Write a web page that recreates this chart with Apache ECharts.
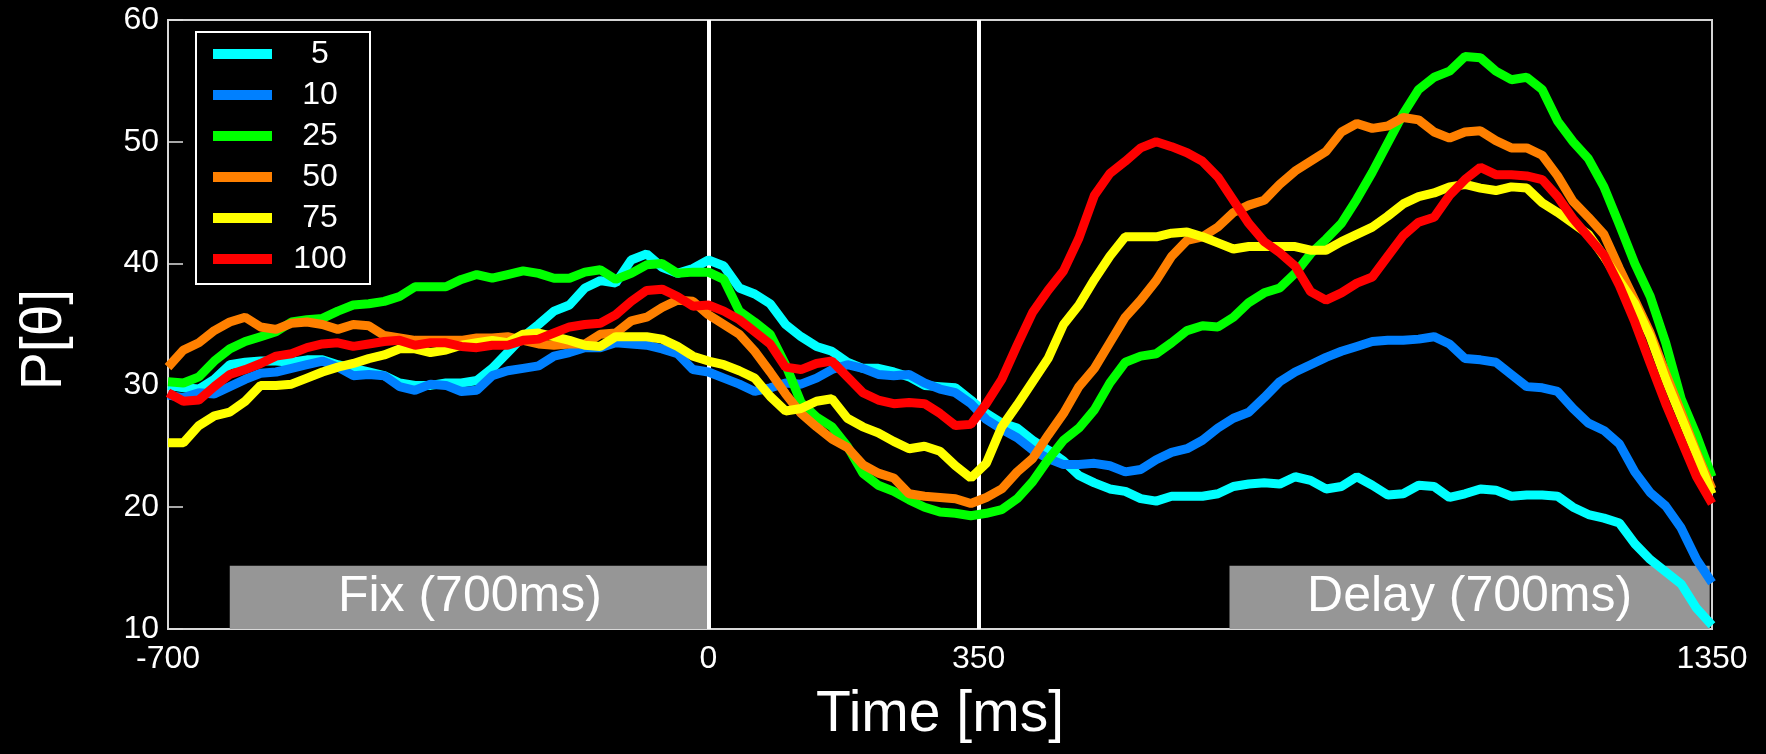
<!DOCTYPE html>
<html>
<head>
<meta charset="utf-8">
<script src="https://cdn.jsdelivr.net/npm/echarts@6/dist/echarts.min.js"></script>
<style>
html,body{margin:0;padding:0;background:#000;}
#chart{width:1766px;height:754px;}
</style>
</head>
<body>
<div id="chart"></div>
<script>
// x positions are sample indices 0..200 (one reading every 2 samples)
const STEP = 2;
const tickPositions = [0, 70, 105, 200];
const tickLabels = ['-700', '0', '350', '1350'];
const seriesNames = ['5', '10', '25', '50', '75', '100'];
const seriesColors = ['#00FFFF', '#0080FF', '#00FF00', '#FF8000', '#FFFF00', '#FF0000'];

const vals5 = [
  30.0,29.8,29.7,30.5,31.7,31.9,32.0,32.0,31.9,32.1,
  32.1,31.7,31.4,31.1,30.8,30.2,30.0,30.0,30.2,30.2,
  30.4,31.4,32.7,34.0,35.0,36.1,36.6,38.0,38.6,38.4,
  40.3,40.8,39.7,39.2,39.6,40.3,39.8,38.0,37.5,36.7,
  35.0,34.0,33.2,32.8,31.9,31.4,31.4,31.1,30.7,30.0,
  29.9,29.8,28.8,27.7,26.9,26.5,25.5,24.7,23.8,22.6,
  22.0,21.5,21.3,20.7,20.5,20.9,20.9,20.9,21.1,21.7,
  21.9,22.0,21.9,22.5,22.2,21.5,21.7,22.5,21.8,21.0,
  21.1,21.8,21.7,20.8,21.1,21.5,21.4,20.9,21.0,21.0,
  20.9,20.0,19.4,19.1,18.7,17.0,15.7,14.7,13.7,11.7,
  10.3];
const vals10 = [
  29.2,29.0,29.4,29.3,29.9,30.5,31.0,31.1,31.4,31.7,
  32.0,31.5,30.8,30.9,30.8,29.9,29.6,30.1,30.0,29.5,
  29.6,30.8,31.2,31.4,31.6,32.4,32.7,33.1,33.1,33.5,
  33.4,33.3,33.0,32.6,31.3,31.1,30.6,30.1,29.5,29.8,
  30.2,30.1,30.6,31.3,31.7,31.4,30.9,30.8,30.9,30.2,
  29.7,29.4,28.5,27.2,26.4,25.7,24.7,24.0,23.5,23.5,
  23.6,23.4,22.9,23.1,23.9,24.5,24.8,25.5,26.5,27.3,
  27.8,29.0,30.3,31.1,31.7,32.3,32.8,33.2,33.6,33.7,
  33.7,33.8,34.0,33.4,32.2,32.1,31.9,30.9,29.9,29.8,
  29.5,28.1,26.9,26.3,25.2,22.9,21.2,20.1,18.3,15.7,
  13.8];
const vals25 = [
  30.3,30.2,30.7,32.0,33.0,33.6,34.0,34.4,35.2,35.4,
  35.5,36.1,36.6,36.7,36.9,37.3,38.1,38.1,38.1,38.7,
  39.1,38.8,39.1,39.4,39.2,38.8,38.8,39.3,39.5,38.7,
  39.2,39.9,40.0,39.2,39.3,39.3,38.7,36.1,35.2,34.2,
  31.7,28.6,27.4,26.6,25.0,22.8,21.8,21.3,20.6,20.0,
  19.6,19.5,19.3,19.5,19.8,20.7,22.1,23.9,25.5,26.5,
  28.0,30.2,31.9,32.4,32.6,33.5,34.5,34.9,34.8,35.6,
  36.8,37.6,38.0,39.2,40.8,42.0,43.3,45.3,47.5,49.9,
  52.3,54.3,55.3,55.8,57.0,56.9,55.8,55.1,55.3,54.3,
  51.7,50.0,48.6,46.3,43.2,40.0,37.3,33.5,28.9,25.9,
  22.5];
const vals50 = [
  31.5,32.9,33.5,34.5,35.2,35.6,34.8,34.6,35.1,35.2,
  35.0,34.6,35.0,34.9,34.1,33.9,33.7,33.7,33.7,33.7,
  33.9,33.9,34.0,33.7,33.4,33.3,33.4,33.4,34.2,34.3,
  35.3,35.6,36.4,37.0,36.9,35.8,35.0,34.2,32.8,31.1,
  29.3,27.7,26.6,25.6,24.9,23.5,22.8,22.4,21.1,20.9,
  20.8,20.7,20.3,20.8,21.5,22.9,24.0,25.9,27.7,29.9,
  31.4,33.5,35.6,37.0,38.6,40.6,41.9,42.2,43.0,44.2,
  44.8,45.2,46.5,47.6,48.4,49.2,50.8,51.5,51.1,51.3,
  52.0,51.8,50.8,50.3,50.8,50.9,50.1,49.5,49.5,48.9,
  47.2,45.1,43.8,42.4,39.6,37.0,34.3,31.0,27.8,24.5,
  21.5];
const vals75 = [
  25.3,25.3,26.7,27.5,27.8,28.7,30.0,30.0,30.1,30.6,
  31.1,31.5,31.8,32.2,32.5,33.0,33.0,32.7,32.9,33.3,
  33.5,33.7,33.5,34.2,34.3,34.0,33.7,33.3,33.2,34.0,
  34.0,34.0,33.8,33.2,32.4,32.0,31.7,31.2,30.6,29.1,
  27.9,28.1,28.7,28.9,27.3,26.6,26.1,25.4,24.8,25.0,
  24.6,23.4,22.4,23.6,26.6,28.4,30.3,32.2,35.0,36.6,
  38.7,40.6,42.2,42.2,42.2,42.5,42.6,42.2,41.7,41.2,
  41.4,41.4,41.4,41.4,41.1,41.1,41.8,42.4,43.0,43.9,
  44.9,45.5,45.8,46.3,46.5,46.2,46.0,46.3,46.2,45.0,
  44.2,43.3,42.4,40.6,38.6,36.7,34.0,30.5,27.4,24.3,
  21.1];
const vals100 = [
  29.4,28.7,28.8,29.9,30.9,31.3,31.8,32.4,32.6,33.1,
  33.4,33.5,33.2,33.4,33.6,33.7,33.3,33.5,33.5,33.2,
  33.1,33.3,33.3,33.7,33.8,34.3,34.8,35.0,35.1,35.8,
  36.9,37.8,37.9,37.3,36.5,36.6,36.1,35.4,34.4,33.4,
  31.5,31.3,31.8,32.0,30.7,29.4,28.8,28.5,28.6,28.5,
  27.7,26.7,26.8,28.5,30.5,33.3,36.0,37.8,39.4,42.1,
  45.6,47.4,48.4,49.5,50.0,49.6,49.1,48.4,47.1,45.2,
  43.3,41.8,40.9,39.8,37.7,37.0,37.6,38.4,38.9,40.6,
  42.3,43.4,43.8,45.6,46.9,47.9,47.3,47.3,47.2,46.9,
  45.5,43.7,42.2,40.7,38.2,35.2,31.8,28.5,25.5,22.5,
  20.3];
const allVals = [vals5, vals10, vals25, vals50, vals75, vals100];

// epoch annotations (in sample index / value units)
const epochBoxes = [
  {label: 'Fix (700ms)', from: 8, to: 70.2, low: 10, high: 15.2},
  {label: 'Delay (700ms)', from: 137.5, to: 199.7, low: 10, high: 15.2}
];
const epochLines = [70, 105];

const FONT = '"Liberation Sans", Arial, sans-serif';
const chart = echarts.init(document.getElementById('chart'), null, {renderer: 'canvas'});

const dataSeries = allVals.map((vals, s) => ({
  name: seriesNames[s],
  type: 'line',
  z: 5,
  symbol: 'none',
  smooth: false,
  color: seriesColors[s],
  lineStyle: {width: 9, color: seriesColors[s]},
  data: vals.map((v, k) => [k * STEP, v])
}));

const option = {
  backgroundColor: '#000',
  animation: false,
  textStyle: {fontFamily: FONT},
  grid: {left: 168, right: 54, top: 20, bottom: 125, show: true, borderColor: '#d4d4d4', borderWidth: 2},
  legend: {
    left: 196, top: 32, orient: 'vertical',
    itemWidth: 59, itemHeight: 10, itemGap: 9,
    padding: [6, 7, 9, 17],
    borderColor: '#ffffff', borderWidth: 2,
    icon: 'rect',
    data: seriesNames,
    formatter: n => '{t|' + n + '}',
    textStyle: {color: '#fff', fontSize: 32, fontFamily: FONT,
      rich: {t: {width: 86, align: 'center', fontSize: 32, lineHeight: 32, color: '#fff', fontFamily: FONT}}}
  },
  xAxis: {
    type: 'value', min: 0, max: 200,
    name: 'Time [ms]', nameLocation: 'middle', nameGap: 58,
    nameTextStyle: {color: '#fff', fontSize: 57, fontFamily: FONT},
    axisLine: {show: true, lineStyle: {color: '#d8d8d8', width: 2}},
    axisTick: {show: false},
    splitLine: {show: false},
    axisLabel: {
      customValues: tickPositions,
      color: '#fff', fontSize: 32, margin: 14, fontFamily: FONT,
      formatter: v => tickLabels[tickPositions.indexOf(v)]
    }
  },
  yAxis: {
    type: 'value', min: 10, max: 60, interval: 10,
    name: 'P[θ]', nameLocation: 'middle', nameGap: 94, nameRotate: 90,
    nameTextStyle: {color: '#fff', fontSize: 57, fontFamily: FONT, padding: [0, 30, 0, 0]},
    axisLine: {show: true, lineStyle: {color: '#d8d8d8', width: 2}},
    axisTick: {show: true, inside: true, length: 15, lineStyle: {color: '#e0e0e0', width: 1.5}},
    splitLine: {show: false},
    axisLabel: {color: '#fff', fontSize: 32, margin: 9, fontFamily: FONT}
  },
  series: [
    {
      type: 'line', z: 1, silent: true, data: [],
      markArea: {
        silent: true,
        itemStyle: {color: '#969696'},
        label: {show: true, position: 'inside', color: '#fff', fontSize: 50, fontFamily: FONT},
        data: epochBoxes.map(b => [
          {name: b.label, xAxis: b.from, yAxis: b.low},
          {xAxis: b.to, yAxis: b.high}
        ])
      }
    },
    {
      type: 'line', z: 2, silent: true, data: [],
      markLine: {
        silent: true, symbol: 'none', animation: false,
        label: {show: false},
        lineStyle: {color: '#ffffff', width: 4, type: 'solid'},
        data: epochLines.map(x => ({xAxis: x}))
      }
    },
    ...dataSeries
  ]
};
chart.setOption(option);
</script>
</body>
</html>
